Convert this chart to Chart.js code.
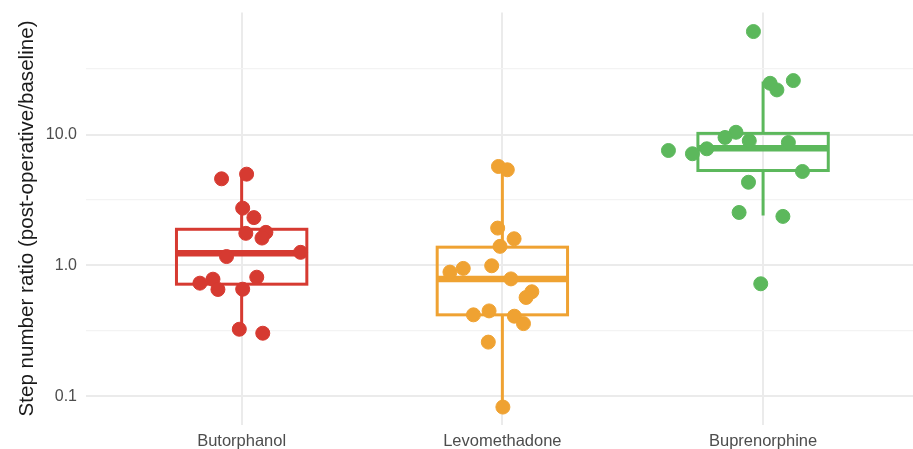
<!DOCTYPE html>
<html>
<head>
<meta charset="utf-8">
<script src="https://cdn.jsdelivr.net/npm/chart.js@4.4.1/dist/chart.umd.min.js"></script>
<style>
  body { margin: 0; background: #fff; }
  #wrap { width: 913px; height: 449px; position: relative; }
</style>
</head>
<body>
<div id="wrap"><canvas id="boxChart"></canvas></div>
<script>
// categories and colours
const categories = ['Butorphanol', 'Levomethadone', 'Buprenorphine'];
const colors = ['#d63a31', '#efa232', '#5cb85c'];

// y axis breaks (log scale)
const yMajor = [0.1, 1, 10];
const yMajorLabels = ['0.1', '1.0', '10.0'];
const yMinor = [0.316, 3.16, 31.6];

// box statistics
const whiskerLow  = [0.33, 0.083, 2.41];
const q1          = [0.72, 0.42, 5.31];
const median      = [1.24, 0.79, 7.86];
const q3          = [1.89, 1.38, 10.2];
const whiskerHigh = [4.95, 5.70, 25.4];

// jittered points: x offset from category centre, and value
const butJitter = [-0.077, 0.019, 0.004, 0.047, 0.016, 0.093, 0.078, -0.058, 0.226, -0.160, -0.110, -0.091, 0.004, 0.058, -0.009, 0.081];
const butValues = [4.59, 4.98, 2.74, 2.32, 1.76, 1.79, 1.62, 1.17, 1.26, 0.733, 0.786, 0.656, 0.659, 0.814, 0.326, 0.304];

const levJitter = [-0.015, 0.019, -0.018, 0.045, -0.009, -0.041, -0.201, -0.150, 0.033, 0.113, 0.091, -0.111, -0.051, 0.046, 0.081, -0.054, 0.002];
const levValues = [5.70, 5.38, 1.93, 1.60, 1.40, 0.995, 0.89, 0.95, 0.79, 0.63, 0.57, 0.42, 0.45, 0.41, 0.36, 0.26, 0.083];

const bupJitter = [-0.037, 0.027, 0.053, 0.116, -0.104, -0.146, -0.053, 0.097, -0.216, -0.271, -0.363, 0.151, -0.056, -0.092, 0.076, -0.009];
const bupValues = [61.1, 24.6, 21.9, 25.8, 10.4, 9.49, 8.95, 8.69, 7.78, 7.13, 7.55, 5.22, 4.32, 2.54, 2.37, 0.725];

const boxWidth = 0.5;

function toPoints(idx, jitter, values) {
    return values.map((v, i) => ({ x: idx + jitter[i], y: v }));
}

// draws the boxplots underneath the points, using the chart's own scales
const boxPlugin = {
    id: 'boxes',
    beforeDatasetsDraw: function (chart) {
        const ctx = chart.ctx;
        const xs = chart.scales.x;
        const ys = chart.scales.y;
        categories.forEach((c, i) => {
            const left = xs.getPixelForValue(i - boxWidth / 2);
            const right = xs.getPixelForValue(i + boxWidth / 2);
            const cx = xs.getPixelForValue(i);
            const yq1 = ys.getPixelForValue(q1[i]);
            const yq3 = ys.getPixelForValue(q3[i]);
            const ymed = ys.getPixelForValue(median[i]);
            const ylo = ys.getPixelForValue(whiskerLow[i]);
            const yhi = ys.getPixelForValue(whiskerHigh[i]);
            ctx.save();
            ctx.strokeStyle = colors[i];
            ctx.lineWidth = 3;
            ctx.lineCap = 'butt';
            // whiskers
            ctx.beginPath();
            ctx.moveTo(cx, yq3);
            ctx.lineTo(cx, yhi);
            ctx.moveTo(cx, yq1);
            ctx.lineTo(cx, ylo);
            ctx.stroke();
            // box
            ctx.strokeRect(left, yq3, right - left, yq1 - yq3);
            // median
            ctx.lineWidth = 6.5;
            ctx.beginPath();
            ctx.moveTo(left, ymed);
            ctx.lineTo(right, ymed);
            ctx.stroke();
            ctx.restore();
        });
    }
};

const pointSet = (idx, jitter, values) => ({
    type: 'scatter',
    data: toPoints(idx, jitter, values),
    backgroundColor: colors[idx],
    borderColor: colors[idx],
    borderWidth: 1,
    pointRadius: 7,
    pointHoverRadius: 7
});

new Chart(document.getElementById('boxChart').getContext('2d'), {
    type: 'scatter',
    data: {
        datasets: [
            pointSet(0, butJitter, butValues),
            pointSet(1, levJitter, levValues),
            pointSet(2, bupJitter, bupValues)
        ]
    },
    plugins: [boxPlugin],
    options: {
        responsive: true,
        maintainAspectRatio: false,
        animation: false,
        layout: { autoPadding: false, padding: { top: 12.5, right: 0, left: 0, bottom: 0 } },
        plugins: {
            legend: { display: false },
            tooltip: { enabled: false }
        },
        scales: {
            x: {
                type: 'linear',
                min: -0.597,
                max: 2.575,
                afterBuildTicks: function (scale) {
                    scale.ticks = categories.map((c, i) => ({ value: i }));
                },
                afterFit: function (scale) {
                    scale.height = 24.5;
                    scale.paddingLeft = 0;
                    scale.paddingRight = 0;
                },
                grid: { color: '#ebebeb', lineWidth: 2, drawTicks: false },
                border: { display: false },
                ticks: {
                    autoSkip: false,
                    maxRotation: 0,
                    padding: 7.5,
                    color: '#4d4d4d',
                    font: { family: 'Liberation Sans, Arial, sans-serif', size: 16.5 },
                    callback: v => categories[v]
                }
            },
            y: {
                type: 'logarithmic',
                min: 0.0611,
                max: 85.4,
                afterBuildTicks: function (scale) {
                    scale.ticks = [yMajor[0], yMinor[0], yMajor[1], yMinor[1], yMajor[2], yMinor[2]].map(v => ({ value: v }));
                },
                afterFit: function (scale) {
                    scale.width = 86;
                    scale.paddingTop = 0;
                    scale.paddingBottom = 0;
                },
                grid: {
                    drawTicks: false,
                    color: c => yMajor.includes(c.tick.value) ? '#ebebeb' : '#f3f3f3',
                    lineWidth: c => yMajor.includes(c.tick.value) ? 2 : 1.3
                },
                border: { display: false },
                ticks: {
                    autoSkip: false,
                    padding: 9,
                    color: '#4d4d4d',
                    font: { family: 'Liberation Sans, Arial, sans-serif', size: 16 },
                    callback: v => {
                        const k = yMajor.indexOf(v);
                        return k >= 0 ? yMajorLabels[k] : '';
                    }
                },
                title: {
                    display: true,
                    text: 'Step number ratio (post-operative/baseline)',
                    color: '#1a1a1a',
                    padding: { top: 15, bottom: 0 },
                    font: { family: 'Liberation Sans, Arial, sans-serif', size: 20.6 }
                }
            }
        }
    }
});
</script>
</body>
</html>
